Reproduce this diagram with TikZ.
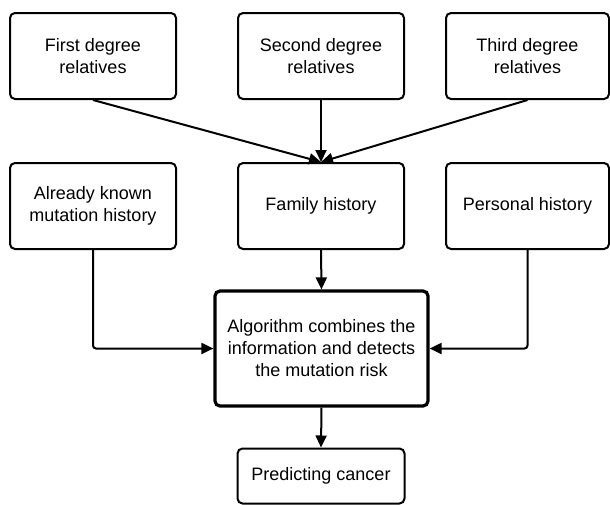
\documentclass[tikz,border=0pt]{standalone}
\usepackage{fontspec}
\setmainfont{Liberation Sans}
\usetikzlibrary{arrows.meta}
\begin{document}
\begin{tikzpicture}[x=1pt,y=-1pt,
  box/.style={draw=black, line width=2pt, rounded corners=5pt, fill=white,
    align=center, inner sep=0pt, font=\fontsize{18}{22}\selectfont},
  bigbox/.style={box, line width=3.2pt},
  conn/.style={line width=2pt, rounded corners=3pt, -{Triangle[length=12pt,width=11pt]}}]
\useasboundingbox (0,0) rectangle (610,504);
\node[box, minimum width=166pt, minimum height=86pt] (first) at (93,56) {First degree\\relatives};
\node[box, minimum width=166pt, minimum height=86pt] (second) at (321,56) {Second degree\\relatives};
\node[box, minimum width=163pt, minimum height=86pt] (third) at (527.5,56) {Third degree\\relatives};
\node[box, minimum width=166pt, minimum height=86pt] (known) at (93,206) {Already known\\mutation history};
\node[box, minimum width=166pt, minimum height=86pt] (family) at (321,206) {Family history};
\node[box, minimum width=163pt, minimum height=86pt] (personal) at (527.5,206) {Personal history};
\node[bigbox, minimum width=213pt, minimum height=115pt] (algo) at (321.5,348.5) {Algorithm combines the\\information and detects\\the mutation risk};
\node[box, minimum width=167pt, minimum height=55pt] (predict) at (321,476) {Predicting cancer};
\draw[conn] (first.south) -- (family.north);
\draw[conn] (second.south) -- (family.north);
\draw[conn] (third.south) -- (family.north);
\draw[conn] (known.south) |- (algo.west);
\draw[conn] (personal.south) |- (algo.east);
\draw[conn] (family.south) -- (algo.north);
\draw[conn] (algo.south) -- (predict.north);
\end{tikzpicture}
\end{document}
